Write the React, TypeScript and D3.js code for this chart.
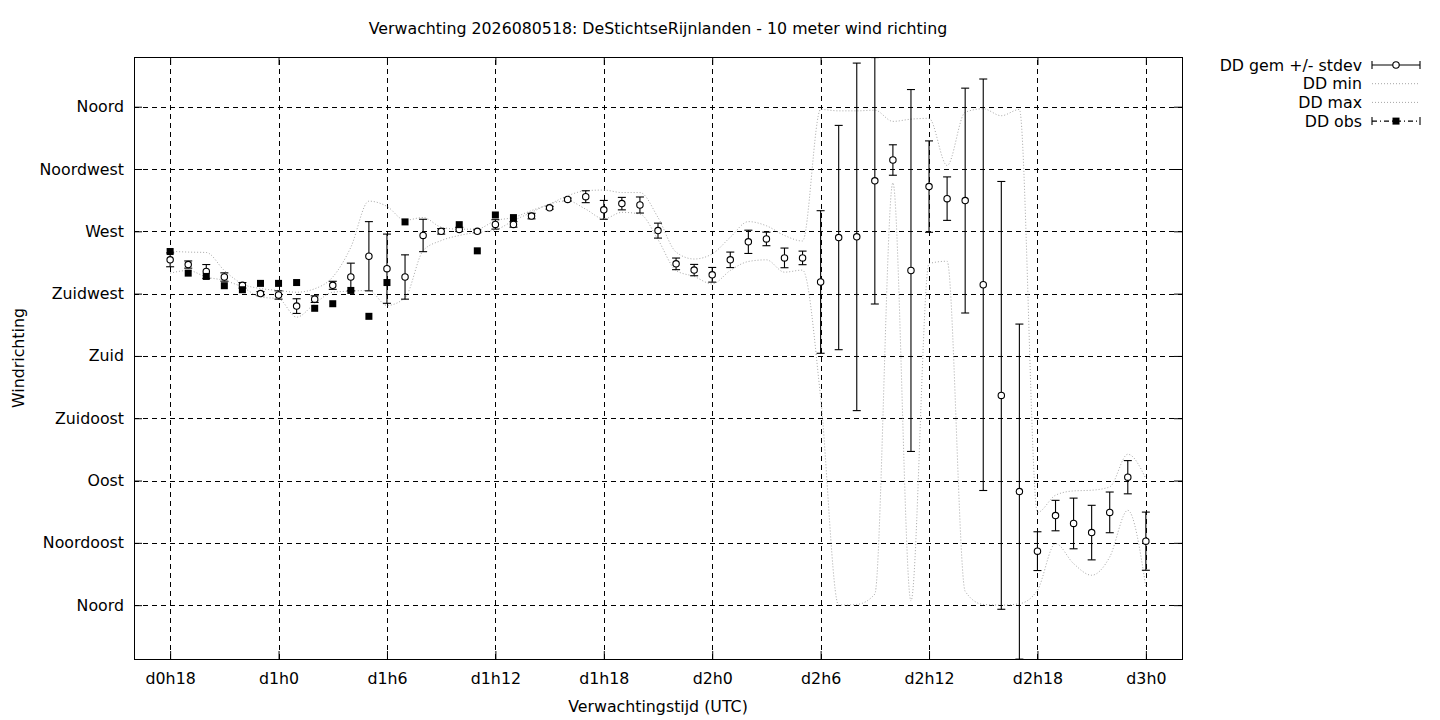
import React, { useEffect, useRef } from 'react';
import * as d3 from 'd3';

// forecast hours since d0h0
const hours = [18, 19, 20, 21, 22, 23, 24, 25, 26, 27, 28, 29, 30, 31, 32, 33, 34, 35, 36, 37,
  38, 39, 40, 41, 42, 43, 44, 45, 46, 47, 48, 49, 50, 51, 52, 53, 54, 55, 56, 57,
  58, 59, 60, 61, 62, 63, 64, 65, 66, 67, 68, 69, 70, 71, 72];

// wind direction in degrees
const ddMean = [249.4, 246, 241, 237, 231, 225, 224, 216, 221, 231, 237, 252, 243, 237, 267, 270, 271.4, 270, 275, 275,
  281, 287, 293, 295, 285.5, 290, 289, 270.5, 246.5, 242, 238.6, 249.4, 262.4, 264.5, 250.8, 250.8, 233.4, 265.5, 266, 306.5,
  321.5, 241.7, 302.3, 293.6, 292.2, 231.4, 151.5, 82, 39, 64.7, 59, 52.4, 67, 92.4, 46.2];
const ddStd = [5, 2.6, 5, 3, 2, 1.5, 3, 5.3, 2.4, 2.9, 10, 25, 25, 16, 11.7, 2, 1.5, 1, 3.4, 2,
  2, 1, 1, 4.3, 6.8, 4.5, 5.8, 5.4, 4.2, 4.1, 5.3, 5.6, 8.4, 4.9, 7.1, 4.9, 51.5, 81, 125.5, 89,
  11, 130.7, 33, 15.7, 81.2, 148.6, 154.5, 121, 14, 11, 18.3, 19.7, 14.7, 12, 21];
const ddMin = [239.8, 241.7, 237, 234.5, 229.7, 222.5, 221.3, 208, 217.7, 226, 226.8, 227.3, 216.5, 222, 256, 263.3, 267, 269.3, 271, 277.7,
  283.7, 289.7, 292, 286, 279, 283.7, 282.5, 264, 241.7, 237.4, 232, 241.7, 248.2, 249.4, 240.5, 242, 150, 0, 0.5, 8,
  305, 3, 246.7, 248.4, 10, 0.5, 0, 1, 10.8, 44.5, 30, 21.6, 34.8, 68.5, 13.2];
const ddMax = [255.6, 255, 254.7, 241.7, 232, 228.7, 227.3, 226, 228.5, 237, 258.5, 291.8, 288, 278, 280, 273, 271.5, 271.7, 277.7, 280,
  285, 289.7, 295.7, 299.3, 299.8, 298, 298, 280, 255, 250, 253.7, 265.7, 277, 274, 267, 263, 358, 357, 357, 357.5,
  349.4, 351, 351.6, 317.5, 356, 358.5, 353.5, 358, 67, 79.4, 82.5, 83, 85.4, 109, 91.4];

const obsHours = [18, 19, 20, 21, 22, 23, 24, 25, 26, 27, 28, 29, 30, 31, 34, 35, 36, 37];
const ddObs = [255.4, 239.8, 237.4, 230.7, 227.8, 232.4, 232.4, 233, 214.4, 217.7, 227.3, 208.6, 233, 276.8, 274.8, 255.9, 281.8, 279.9];

const xTickValues = [18, 24, 30, 36, 42, 48, 54, 60, 66, 72];
const xTickLabels = ['d0h18', 'd1h0', 'd1h6', 'd1h12', 'd1h18', 'd2h0', 'd2h6', 'd2h12', 'd2h18', 'd3h0'];
const yTickValues = [0, 45, 90, 135, 180, 225, 270, 315, 360];
const yTickLabels = ['Noord', 'Noordoost', 'Oost', 'Zuidoost', 'Zuid', 'Zuidwest', 'West', 'Noordwest', 'Noord'];

const legendLabels = ['DD gem +/- stdev', 'DD min', 'DD max', 'DD obs'];

const FONT = '"DejaVu Sans", sans-serif';
const FONT_SIZE = '15.8px';
const DOT_GREY = '#a6a6a6';

const App: React.FC = () => {
  const svgRef = useRef<SVGSVGElement>(null);

  useEffect(() => {
    if (!svgRef.current) return;
    const svg = d3.select(svgRef.current);
    svg.selectAll('*').remove();

    const width = 1440;
    const height = 720;
    const margin = { top: 57, right: 258, bottom: 61, left: 134 };
    const x0 = margin.left;
    const x1 = width - margin.right;
    const y0 = height - margin.bottom;
    const y1 = margin.top;

    const x = d3.scaleLinear().domain([16, 74]).range([x0, x1]);
    const y = d3.scaleLinear().domain([-38.9, 395.9]).range([y0, y1]);

    svg.append('rect').attr('width', width).attr('height', height).attr('fill', '#fff');

    svg.append('defs').append('clipPath').attr('id', 'plot-clip')
      .append('rect').attr('x', x0).attr('y', y1).attr('width', x1 - x0).attr('height', y0 - y1);

    // grid
    const grid = svg.append('g').attr('stroke', '#000').attr('stroke-width', 1)
      .attr('stroke-dasharray', '5,4').attr('shape-rendering', 'crispEdges');
    grid.selectAll('line.h').data(yTickValues).enter().append('line')
      .attr('x1', x0).attr('x2', x1)
      .attr('y1', d => Math.round(y(d)) + 0.5).attr('y2', d => Math.round(y(d)) + 0.5);
    grid.selectAll('line.v').data(xTickValues).enter().append('line')
      .attr('y1', y0).attr('y2', y1)
      .attr('x1', d => Math.round(x(d)) + 0.5).attr('x2', d => Math.round(x(d)) + 0.5);

    // axes with inward ticks
    const styleAxis = (g: d3.Selection<SVGGElement, unknown, null, undefined>) => {
      g.select('.domain').remove();
      g.selectAll('line').attr('stroke', '#000');
      g.selectAll('text').attr('fill', '#000').style('font-family', FONT).style('font-size', FONT_SIZE);
    };
    svg.append('g').attr('transform', `translate(0,${y0})`)
      .call(d3.axisBottom(x).tickValues(xTickValues).tickFormat((_, i) => xTickLabels[i])
        .tickSizeInner(-8).tickSizeOuter(0).tickPadding(14))
      .call(styleAxis);
    svg.append('g').attr('transform', `translate(0,${y1})`)
      .call(d3.axisTop(x).tickValues(xTickValues).tickFormat(() => '').tickSizeInner(-8).tickSizeOuter(0))
      .call(styleAxis);
    svg.append('g').attr('transform', `translate(${x0},0)`)
      .call(d3.axisLeft(y).tickValues(yTickValues).tickFormat((_, i) => yTickLabels[i])
        .tickSizeInner(-8).tickSizeOuter(0).tickPadding(10))
      .call(styleAxis);
    svg.append('g').attr('transform', `translate(${x1},0)`)
      .call(d3.axisRight(y).tickValues(yTickValues).tickFormat(() => '').tickSizeInner(-8).tickSizeOuter(0))
      .call(styleAxis);

    const plot = svg.append('g').attr('clip-path', 'url(#plot-clip)');

    // min / max lines
    const line = d3.line<number>()
      .x((_, i) => x(hours[i]))
      .y(d => y(d))
      .curve(d3.curveMonotoneX);
    [ddMin, ddMax].forEach(series => {
      plot.append('path').datum(series)
        .attr('d', line)
        .attr('fill', 'none')
        .attr('stroke', DOT_GREY)
        .attr('stroke-width', 1)
        .attr('stroke-dasharray', '1,2');
    });

    // error bars
    const bars = plot.append('g').attr('stroke', '#000').attr('stroke-width', 1.1);
    hours.forEach((h, i) => {
      const cx = x(h);
      const lo = y(ddMean[i] - ddStd[i]);
      const hi = y(ddMean[i] + ddStd[i]);
      bars.append('line').attr('x1', cx).attr('x2', cx).attr('y1', lo).attr('y2', hi);
      bars.append('line').attr('x1', cx - 4).attr('x2', cx + 4).attr('y1', lo).attr('y2', lo);
      bars.append('line').attr('x1', cx - 4).attr('x2', cx + 4).attr('y1', hi).attr('y2', hi);
    });
    plot.selectAll('circle.mean').data(ddMean).enter().append('circle')
      .attr('cx', (_, i) => x(hours[i]))
      .attr('cy', d => y(d))
      .attr('r', 3.2)
      .attr('fill', '#fff')
      .attr('stroke', '#000')
      .attr('stroke-width', 1.1);

    // observations
    plot.selectAll('rect.obs').data(ddObs).enter().append('rect')
      .attr('x', (_, i) => x(obsHours[i]) - 3.5)
      .attr('y', d => y(d) - 3.5)
      .attr('width', 7)
      .attr('height', 7)
      .attr('fill', '#000');

    // border
    svg.append('rect').attr('x', x0 + 0.5).attr('y', y1 + 0.5)
      .attr('width', x1 - x0).attr('height', y0 - y1)
      .attr('fill', 'none').attr('stroke', '#000').attr('stroke-width', 1)
      .attr('shape-rendering', 'crispEdges');

    // titles
    const text = (tx: number, ty: number, s: string, anchor = 'middle') =>
      svg.append('text').attr('x', tx).attr('y', ty).attr('text-anchor', anchor)
        .style('font-family', FONT).style('font-size', FONT_SIZE).attr('fill', '#000').text(s);
    text((x0 + x1) / 2, 34, 'Verwachting 2026080518: DeStichtseRijnlanden - 10 meter wind richting');
    text((x0 + x1) / 2, 712, 'Verwachtingstijd (UTC)');
    text(0, 0, 'Windrichting').attr('transform', `translate(24,${(y0 + y1) / 2}) rotate(-90)`);

    // legend
    const lx0 = 1372;
    const lx1 = 1420;
    const lmid = (lx0 + lx1) / 2;
    const legend = svg.append('g');
    legendLabels.forEach((label, i) => {
      const ly = 65 + i * 18.7;
      legend.append('text').attr('x', 1362).attr('y', ly + 5.6).attr('text-anchor', 'end')
        .style('font-family', FONT).style('font-size', FONT_SIZE).attr('fill', '#000').text(label);
      if (i === 0 || i === 3) {
        legend.append('line').attr('x1', lx0).attr('x2', lx1).attr('y1', ly).attr('y2', ly)
          .attr('stroke', '#000').attr('stroke-width', 1.1)
          .attr('stroke-dasharray', i === 3 ? '5,3,1,3' : null);
        [lx0, lx1].forEach(cx => legend.append('line').attr('x1', cx).attr('x2', cx)
          .attr('y1', ly - 4).attr('y2', ly + 4).attr('stroke', '#000').attr('stroke-width', 1.1));
        if (i === 0) {
          legend.append('circle').attr('cx', lmid).attr('cy', ly).attr('r', 3.2)
            .attr('fill', '#fff').attr('stroke', '#000').attr('stroke-width', 1.1);
        } else {
          legend.append('rect').attr('x', lmid - 3.5).attr('y', ly - 3.5).attr('width', 7).attr('height', 7)
            .attr('fill', '#000');
        }
      } else {
        legend.append('line').attr('x1', lx0).attr('x2', lx1).attr('y1', ly).attr('y2', ly)
          .attr('stroke', DOT_GREY).attr('stroke-width', 1).attr('stroke-dasharray', '1,2');
      }
    });
  }, []);

  return (
    <svg
      ref={svgRef}
      width={1440}
      height={720}
      style={{ position: 'absolute', left: 0, top: 0, display: 'block' }}
    />
  );
};

export default App;
